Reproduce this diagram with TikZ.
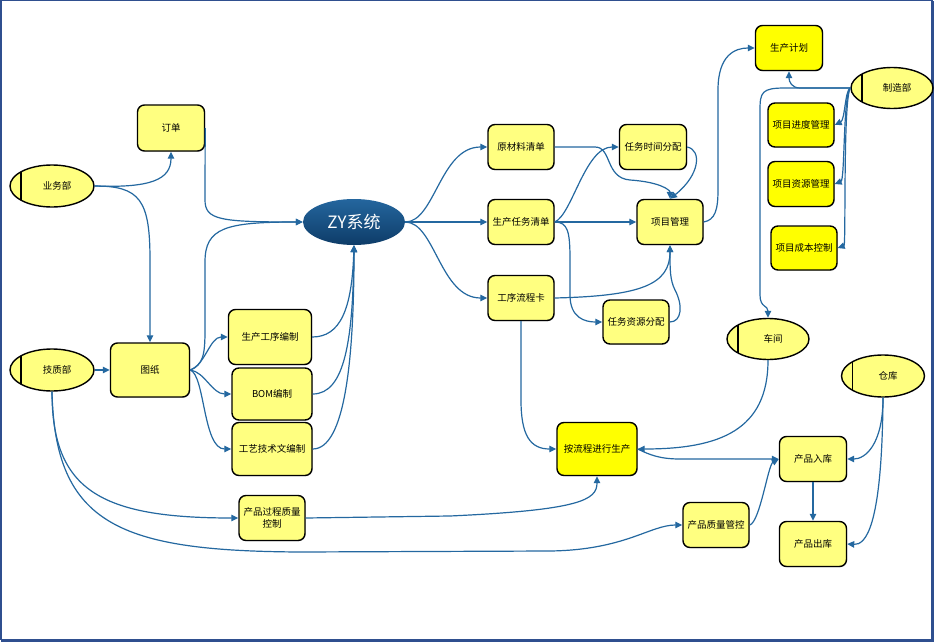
\documentclass[tikz,border=0pt]{standalone}
\usepackage{fontspec}
\newfontfamily\cjk{Noto Sans CJK SC}
\usetikzlibrary{shapes.geometric,arrows.meta,shadows}
\definecolor{linkc}{RGB}{36,104,160}
\definecolor{lyel}{RGB}{255,255,128}
\definecolor{byel}{RGB}{255,255,0}
\definecolor{framec}{RGB}{47,79,143}
\definecolor{zytop}{RGB}{36,102,158}
\definecolor{zybot}{RGB}{14,60,104}
\tikzset{
  box/.style={draw=black, line width=1.4pt, rounded corners=7pt, fill=lyel,
    minimum width=66pt, minimum height=45pt, inner sep=0pt, align=center,
    font=\cjk\fontsize{9.5}{12}\selectfont,
    drop shadow={shadow xshift=0.8pt,shadow yshift=-0.8pt,opacity=0.3,fill=gray}},
  bbox/.style={box, fill=byel},
  dept/.style={ellipse, draw=black, line width=1.4pt, fill=lyel, inner sep=0pt,
    minimum width=84pt, minimum height=42pt,
    font=\cjk\fontsize{9.5}{12}\selectfont,
    path picture={\draw[line width=1.4pt]
      ([xshift=11pt]path picture bounding box.north west) --
      ([xshift=11pt]path picture bounding box.south west);}},
  conn/.style={draw=linkc, line width=1.2pt, -{Triangle[length=7pt,width=6.5pt]}},
}
\begin{document}
\begin{tikzpicture}[x=1pt,y=-1pt]
\useasboundingbox (0,0) rectangle (935,642);
\fill[white] (0,0) rectangle (935,642);
% frame
\draw[framec, line width=1.5pt] (0.75,0.75) rectangle (932.5,639.5);
\fill[framec] (931.3,1) rectangle (934.3,641.5);
\fill[framec] (1,638.5) rectangle (934.3,641.5);

% nodes
\node[dept] (ywb) at (52,186) {\hspace*{10pt}业务部};
\node[dept] (jzb) at (52,370) {\hspace*{10pt}技质部};
\node[dept, minimum width=82pt, minimum height=41pt] (zzb) at (892,88) {\hspace*{10pt}制造部};
\node[dept, minimum width=82pt, minimum height=41pt] (cj) at (768,339) {\hspace*{10pt}车间};
\node[dept, minimum width=83pt] (ck) at (883,376) {\hspace*{10pt}仓库};

\node[ellipse, draw=none, top color=zytop, bottom color=zybot, minimum width=102pt,
  minimum height=46pt, inner sep=0pt, text=white,
  font=\cjk\fontsize{17}{20}\selectfont] (zy) at (354,222) {ZY系统};

\node[box, minimum width=67pt, minimum height=46pt] (dd) at (171,128) {订单};
\node[box, minimum width=79pt, minimum height=54pt] (tz) at (150,370) {图纸};
\node[box, minimum width=83pt, minimum height=55pt] (sc) at (270,337) {生产工序编制};
\node[box, minimum width=80pt, minimum height=52pt] (bom) at (272,394) {BOM编制};
\node[box, minimum width=80pt, minimum height=53pt] (gy) at (272,449) {工艺技术文编制};
\node[box] (gc) at (272,518) {产品过程质量\\控制};
\node[box] (ycl) at (521,147) {原材料清单};
\node[box] (rw) at (521,222) {生产任务清单};
\node[box] (gx) at (521,298) {工序流程卡};
\node[box, minimum width=67pt] (sj) at (653,147) {任务时间分配};
\node[box] (xm) at (670,222) {项目管理};
\node[box, minimum height=44pt] (rzy) at (636,322) {任务资源分配};
\node[bbox, minimum width=67pt] (sjh) at (789,48) {生产计划};
\node[bbox, minimum height=44pt] (jd) at (801,125) {项目进度管理};
\node[bbox] (zyg) at (801,184) {项目资源管理};
\node[bbox, minimum height=44pt] (cb) at (804,248) {项目成本控制};
\node[bbox, minimum width=80pt, minimum height=53pt] (an) at (597,449) {按流程进行生产};
\node[box, minimum width=67pt] (rk) at (813,459) {产品入库};
\node[box, minimum width=67pt] (chk) at (813,544) {产品出库};
\node[box] (zl) at (716,525) {产品质量管控};

% connectors
\draw[conn] (ywb.east) .. controls (150,188) and (171,180) .. (dd.south);
\draw[conn] (ywb.east) .. controls (140,186) and (150,200) .. (150,260) -- (tz.north);
\draw[conn] (dd.east) -- (205,200) .. controls (205,220) and (220,222) .. (zy.west);
\draw[conn] (tz.east) .. controls (203,365) and (205,355) .. (205,330) -- (205,262)
  .. controls (205,228) and (225,222) .. (zy.west);
\draw[conn] (tz.east) .. controls (205,365) and (210,337) .. (sc.west);
\draw[conn] (tz.east) .. controls (205,372) and (212,394) .. (bom.west);
\draw[conn] (tz.east) .. controls (205,375) and (203,449) .. (gy.west);
\draw[conn] (sc.east) .. controls (340,337) and (352,310) .. (zy.south);
\draw[conn] (bom.east) .. controls (345,394) and (353,340) .. (zy.south);
\draw[conn] (gy.east) .. controls (345,449) and (354,360) .. (zy.south);
\draw[conn] (jzb.east) -- (tz.west);
\draw[conn] (jzb.south) .. controls (52,490) and (100,518) .. (gc.west);
\draw[conn] (jzb.south) .. controls (55,525) and (120,551) .. (300,552) -- (550,551)
  .. controls (625,550) and (650,525) .. (zl.west);
\draw[conn] (gc.east) -- (450,516) .. controls (580,510) and (597,500) .. (an.south);
\draw[conn] (zy.east) .. controls (435,222) and (440,147) .. (ycl.west);
\draw[conn] (zy.east) -- (rw.west);
\draw[conn] (zy.east) .. controls (435,222) and (440,298) .. (gx.west);
\draw[conn] (ycl.east) -- (595,147) .. controls (612,147) and (605,178) .. (630,180)
  .. controls (660,182) and (670,190) .. (xm.north);
\draw[conn] (sj.east) .. controls (702,150) and (700,175) .. (xm.north);
\draw[conn] (rw.east) .. controls (572,215) and (585,147) .. (sj.west);
\draw[conn] (rw.east) -- (xm.west);
\draw[conn] (rw.east) .. controls (568,222) and (570,232) .. (570,260) -- (570,295)
  .. controls (570,318) and (585,322) .. (rzy.west);
\draw[conn] (gx.east) .. controls (640,296) and (670,285) .. (xm.south);
\draw[conn] (rzy.east) .. controls (682,322) and (683,305) .. (675,290)
  .. controls (670,280) and (670,270) .. (xm.south);
\draw[conn] (gx.south) -- (521,400) .. controls (521,435) and (530,449) .. (an.west);
\draw[conn] (xm.east) .. controls (715,220) and (718,210) .. (718,190) -- (718,90)
  .. controls (718,55) and (735,48) .. (sjh.west);
\draw[conn] (zzb.west) -- (800,88) .. controls (792,88) and (789,82) .. (sjh.south);
\draw[conn] (zzb.west) .. controls (845,90) and (845,120) .. (jd.east);
\draw[conn] (zzb.west) .. controls (843,95) and (845,180) .. (zyg.east);
\draw[conn] (zzb.west) .. controls (843,100) and (846,245) .. (cb.east);
\draw[conn] (zzb.west) -- (785,88) .. controls (762,88) and (760,92) .. (760,110) -- (760,295)
  .. controls (760,308) and (768,305) .. (cj.north);
\draw[conn] (cj.south) .. controls (768,430) and (720,449) .. (an.east);
\draw[conn] (an.east) .. controls (650,455) and (660,459) .. (680,459) -- (rk.west);
\draw[conn] (zl.east) .. controls (760,522) and (768,465) .. (rk.west);
\draw[conn] (ck.south) .. controls (883,445) and (865,459) .. (rk.east);
\draw[conn] (ck.south) .. controls (882,530) and (865,545) .. (chk.east);
\draw[conn] (rk.south) -- (chk.north);
\end{tikzpicture}
\end{document}
